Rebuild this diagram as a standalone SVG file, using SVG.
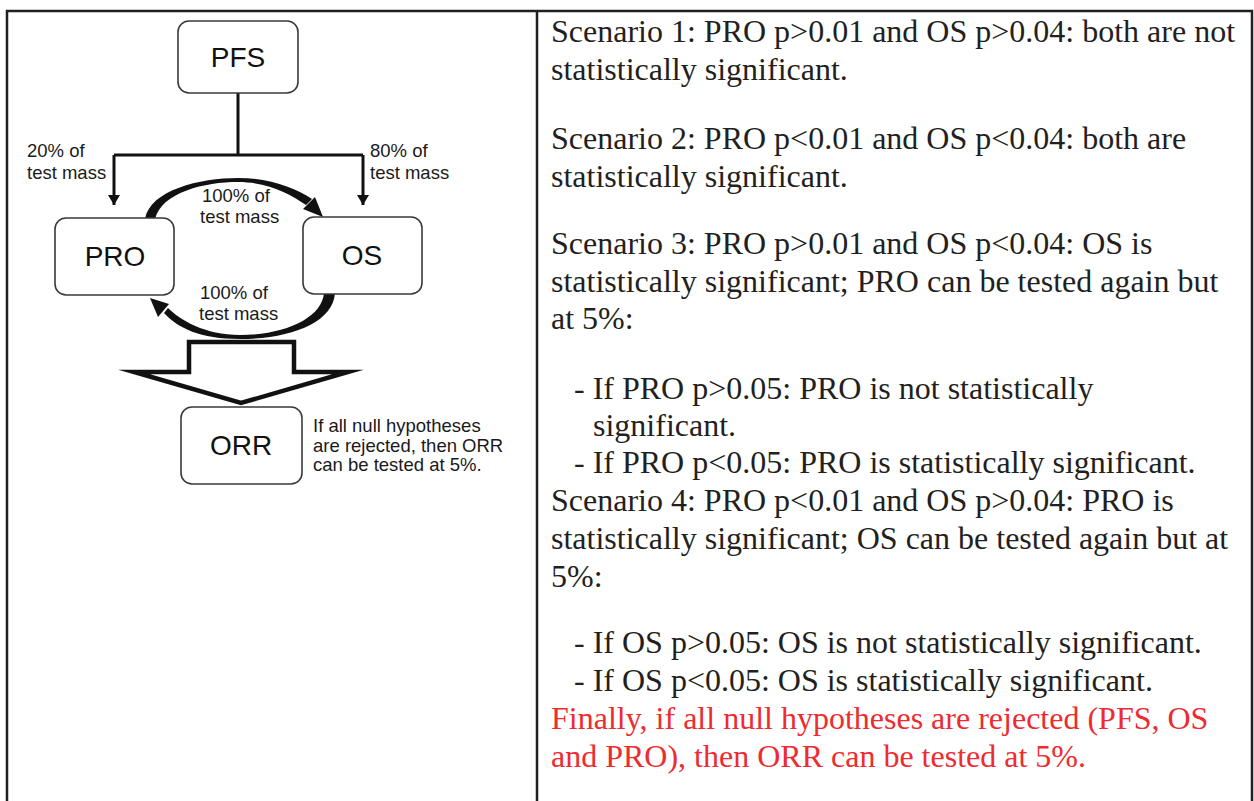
<svg xmlns="http://www.w3.org/2000/svg" width="1254" height="801" viewBox="0 0 1254 801">
<style>
.tbl{stroke:#231f20;stroke-width:2.5;fill:none}
.box{fill:#fff;stroke:#3a3a3a;stroke-width:1.6}
.nl{font-family:"Liberation Sans",Arial,sans-serif;font-size:28px;fill:#111;text-anchor:middle}
.sl{font-family:"Liberation Sans",Arial,sans-serif;font-size:18.5px;fill:#1a1a1a}
.ln{stroke:#111;stroke-width:3;fill:none}
.rt{font-family:"Liberation Serif","Times New Roman",serif;font-size:32px;fill:#231f20}
.red{fill:#ee2b2f}
</style>
<defs>
<marker id="ah" viewBox="0 0 10 12" refX="10" refY="6" markerWidth="10" markerHeight="12" markerUnits="userSpaceOnUse" orient="auto">
<path d="M0,0 L10,6 L0,12 Z" fill="#111"/>
</marker>
</defs>
<g id="table">
<path class="tbl" d="M7,801 V11 H1252 V801 M537,11 V801"/>
</g>
<g id="connectors">
<path class="ln" d="M238,93 V155 M114,155 H363"/>
<path class="ln" d="M114,155 V205" marker-end="url(#ah)"/>
<path class="ln" d="M363,155 V205" marker-end="url(#ah)"/>
<path d="M145,219 C150,190 200,178 238,178 C270,178 295,188 312,199 L306,205 C290,194 268,182 238,182 C205,182 162,192 155,219 Z" fill="#111"/>
<path d="M303,209 L315,197 L323,217 Z" fill="#111"/>
<path d="M335,293 C333,323 290,339 240,339 C200,339 178,328 164,313 L168,308 C180,320 205,335 240,335 C285,335 322,318 324,293 Z" fill="#111"/>
<path d="M150,298 L169,304 L158,317 Z" fill="#111"/>
<polygon points="189,342 294,342 294,372 348,372 241,403 134,372 189,372" fill="#fff" stroke="#111" stroke-width="4.5" stroke-linejoin="miter" stroke-miterlimit="10"/>
<text class="sl" x="27" y="157">20% of</text>
<text class="sl" x="27" y="179">test mass</text>
<text class="sl" x="370" y="157">80% of</text>
<text class="sl" x="370" y="179">test mass</text>
<text class="sl" x="202" y="202">100% of</text>
<text class="sl" x="200" y="223">test mass</text>
<text class="sl" x="200" y="299">100% of</text>
<text class="sl" x="199" y="320">test mass</text>
</g>
<g id="PFS">
<rect class="box" x="178" y="21" width="120" height="72" rx="11"/>
<text class="nl" x="238" y="67">PFS</text>
</g>
<g id="PRO">
<rect class="box" x="55" y="218" width="119" height="77" rx="11"/>
<text class="nl" x="115" y="266">PRO</text>
</g>
<g id="OS">
<rect class="box" x="303" y="217" width="119" height="77" rx="11"/>
<text class="nl" x="362" y="265">OS</text>
</g>
<g id="ORR">
<rect class="box" x="181" y="407" width="121" height="77" rx="11"/>
<text class="nl" x="241" y="455">ORR</text>
<text class="sl" x="313" y="432">If all null hypotheses</text>
<text class="sl" x="313" y="452">are rejected, then ORR</text>
<text class="sl" x="313" y="471">can be tested at 5%.</text>
</g>
<g id="scenarios">
<text class="rt" x="551" y="42">Scenario 1: PRO p&gt;0.01 and OS p&gt;0.04: both are not</text>
<text class="rt" x="551" y="80">statistically significant.</text>
<text class="rt" x="551" y="149">Scenario 2: PRO p&lt;0.01 and OS p&lt;0.04: both are</text>
<text class="rt" x="551" y="187">statistically significant.</text>
<text class="rt" x="551" y="254">Scenario 3: PRO p&gt;0.01 and OS p&lt;0.04: OS is</text>
<text class="rt" x="551" y="292">statistically significant; PRO can be tested again but</text>
<text class="rt" x="551" y="329">at 5%:</text>
<text class="rt" x="574" y="399">- If PRO p&gt;0.05: PRO is not statistically</text>
<text class="rt" x="593" y="436">significant.</text>
<text class="rt" x="574" y="473">- If PRO p&lt;0.05: PRO is statistically significant.</text>
<text class="rt" x="551" y="511">Scenario 4: PRO p&lt;0.01 and OS p&gt;0.04: PRO is</text>
<text class="rt" x="551" y="549">statistically significant; OS can be tested again but at</text>
<text class="rt" x="551" y="587">5%:</text>
<text class="rt" x="574" y="653">- If OS p&gt;0.05: OS is not statistically significant.</text>
<text class="rt" x="574" y="691">- If OS p&lt;0.05: OS is statistically significant.</text>
<text class="rt red" x="551" y="729">Finally, if all null hypotheses are rejected (PFS, OS</text>
<text class="rt red" x="551" y="767">and PRO), then ORR can be tested at 5%.</text>
</g>
</svg>
